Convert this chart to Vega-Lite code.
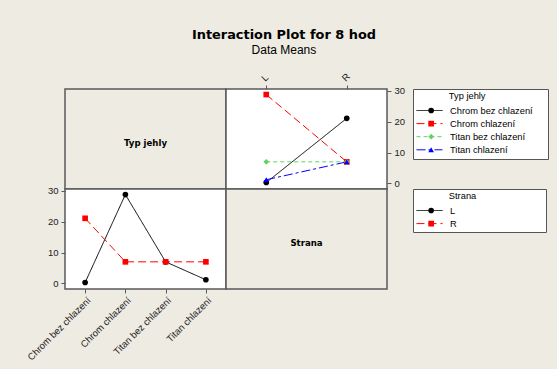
{
  "$schema": "https://vega.github.io/schema/vega-lite/v6.json",
  "background": "#EEEBE2",
  "autosize": {"type": "pad"},
  "padding": {"left": 24, "top": 29, "right": 9, "bottom": 20},
  "title": {
    "text": "Interaction Plot for 8 hod",
    "subtitle": "Data Means",
    "anchor": "middle",
    "dx": -3,
    "font": "DejaVu Sans",
    "fontSize": 12.9,
    "fontWeight": "bold",
    "color": "#000000",
    "subtitleFont": "Liberation Sans",
    "subtitleFontSize": 12,
    "subtitleColor": "#000000",
    "subtitlePadding": 3,
    "offset": 14
  },
  "datasets": {
    "means": [
      {"Typ": "Chrom bez chlazení", "Strana": "L", "mean": 0.3},
      {"Typ": "Chrom bez chlazení", "Strana": "R", "mean": 21.1},
      {"Typ": "Chrom chlazení", "Strana": "L", "mean": 28.8},
      {"Typ": "Chrom chlazení", "Strana": "R", "mean": 7.0},
      {"Typ": "Titan bez chlazení", "Strana": "L", "mean": 7.0},
      {"Typ": "Titan bez chlazení", "Strana": "R", "mean": 7.0},
      {"Typ": "Titan chlazení", "Strana": "L", "mean": 1.2},
      {"Typ": "Titan chlazení", "Strana": "R", "mean": 7.0}
    ]
  },
  "columns": 2,
  "spacing": 0,
  "bounds": "flush",
  "concat": [
    {
      "width": 161,
      "height": 100,
      "view": {"fill": "#EEEBE2", "stroke": "#5a5a5a", "strokeWidth": 1.5},
      "data": {"values": [{"label": "Typ jehly"}]},
      "mark": {"type": "text", "font": "DejaVu Sans", "fontWeight": "bold", "fontSize": 8.6, "color": "#000000", "dy": 4},
      "encoding": {"text": {"field": "label", "type": "nominal"}}
    },
    {
      "width": 161,
      "height": 100,
      "data": {"name": "means"},
      "encoding": {
        "x": {
          "field": "Strana", "type": "nominal",
          "scale": {"type": "point", "domain": ["L", "R"], "padding": 0.5},
          "axis": {"orient": "top", "labelAngle": -45, "title": null}
        },
        "y": {
          "field": "mean", "type": "quantitative",
          "scale": {"domain": [-1.8, 30.6], "nice": false, "zero": false},
          "axis": {"orient": "right", "values": [0, 10, 20, 30], "title": null, "labelPadding": 3}
        }
      },
      "layer": [
        {
          "mark": {"type": "line", "strokeWidth": 1},
          "encoding": {
            "color": {
              "field": "Typ", "type": "nominal",
              "scale": {"domain": ["Chrom bez chlazení", "Chrom chlazení", "Titan bez chlazení", "Titan chlazení"], "range": ["#000000", "#ff0000", "#5fd35f", "#0000ff"]},
              "legend": {"legendX": 187, "legendY": 0, "title": "\u2800\u00a0\u00a0\u00a0\u00a0\u00a0\u00a0\u00a0\u00a0\u00a0\u00a0Typ jehly\u00a0\u00a0\u00a0\u00a0\u00a0\u00a0\u00a0\u00a0\u00a0\u00a0\u00a0\u00a0\u00a0\u00a0\u00a0\u00a0\u00a0\u00a0\u00a0\u00a0\u2800", "symbolType": "stroke", "symbolSize": 676, "symbolStrokeWidth": 1, "clipHeight": 10, "rowPadding": 2.1, "titlePadding": 4.2, "padding": 3, "labelOffset": 7, "fillColor": "white", "strokeColor": "#555555"}
            },
            "strokeDash": {
              "field": "Typ", "type": "nominal",
              "scale": {"domain": ["Chrom bez chlazení", "Chrom chlazení", "Titan bez chlazení", "Titan chlazení"], "range": [[1, 0], [8, 4], [4, 3], [9, 3, 3, 3]]},
              "legend": {"legendX": 187, "legendY": 0, "title": "\u2800\u00a0\u00a0\u00a0\u00a0\u00a0\u00a0\u00a0\u00a0\u00a0\u00a0Typ jehly\u00a0\u00a0\u00a0\u00a0\u00a0\u00a0\u00a0\u00a0\u00a0\u00a0\u00a0\u00a0\u00a0\u00a0\u00a0\u00a0\u00a0\u00a0\u00a0\u00a0\u2800", "symbolType": "stroke", "symbolSize": 676, "symbolStrokeWidth": 1, "clipHeight": 10, "rowPadding": 2.1, "titlePadding": 4.2, "padding": 3, "labelOffset": 7, "fillColor": "white", "strokeColor": "#555555"}
            }
          }
        },
        {
          "mark": {"type": "point", "filled": true, "opacity": 1, "size": 32},
          "encoding": {
            "color": {
              "field": "Typ", "type": "nominal",
              "scale": {"domain": ["Chrom bez chlazení", "Chrom chlazení", "Titan bez chlazení", "Titan chlazení"], "range": ["#000000", "#ff0000", "#5fd35f", "#0000ff"]},
              "legend": {"legendX": 187, "legendY": 0, "title": "\u2800\u00a0\u00a0\u00a0\u00a0\u00a0\u00a0\u00a0\u00a0\u00a0\u00a0Typ jehly\u00a0\u00a0\u00a0\u00a0\u00a0\u00a0\u00a0\u00a0\u00a0\u00a0\u00a0\u00a0\u00a0\u00a0\u00a0\u00a0\u00a0\u00a0\u00a0\u00a0\u2800", "symbolSize": 32, "symbolStrokeWidth": 0, "symbolOffset": 10.5, "clipHeight": 10, "rowPadding": 2.1, "titlePadding": 4.2, "padding": 3, "labelOffset": 7, "fillColor": "transparent", "strokeColor": "transparent", "labelColor": "transparent", "titleColor": "transparent"}
            },
            "shape": {
              "field": "Typ", "type": "nominal",
              "scale": {"domain": ["Chrom bez chlazení", "Chrom chlazení", "Titan bez chlazení", "Titan chlazení"], "range": ["circle", "square", "diamond", "triangle-up"]},
              "legend": {"legendX": 187, "legendY": 0, "title": "\u2800\u00a0\u00a0\u00a0\u00a0\u00a0\u00a0\u00a0\u00a0\u00a0\u00a0Typ jehly\u00a0\u00a0\u00a0\u00a0\u00a0\u00a0\u00a0\u00a0\u00a0\u00a0\u00a0\u00a0\u00a0\u00a0\u00a0\u00a0\u00a0\u00a0\u00a0\u00a0\u2800", "symbolSize": 32, "symbolStrokeWidth": 0, "symbolOffset": 10.5, "clipHeight": 10, "rowPadding": 2.1, "titlePadding": 4.2, "padding": 3, "labelOffset": 7, "fillColor": "transparent", "strokeColor": "transparent", "labelColor": "transparent", "titleColor": "transparent"}
            }
          }
        }
      ],
      "resolve": {"legend": {"color": "independent", "shape": "independent", "strokeDash": "independent"}}
    },
    {
      "width": 161,
      "height": 100,
      "data": {"name": "means"},
      "encoding": {
        "x": {
          "field": "Typ", "type": "nominal",
          "scale": {"type": "point", "domain": ["Chrom bez chlazení", "Chrom chlazení", "Titan bez chlazení", "Titan chlazení"], "padding": 0.5},
          "axis": {"orient": "bottom", "labelAngle": -45, "title": null}
        },
        "y": {
          "field": "mean", "type": "quantitative",
          "scale": {"domain": [-1.8, 30.6], "nice": false, "zero": false},
          "axis": {"orient": "left", "values": [0, 10, 20, 30], "title": null, "labelPadding": 3}
        }
      },
      "layer": [
        {
          "mark": {"type": "line", "strokeWidth": 1},
          "encoding": {
            "color": {
              "field": "Strana", "type": "nominal",
              "scale": {"domain": ["L", "R"], "range": ["#000000", "#ff0000"]},
              "legend": {"legendX": 348, "legendY": 0, "title": "\u2800\u00a0\u00a0\u00a0\u00a0\u00a0\u00a0\u00a0\u00a0\u00a0\u00a0Strana\u00a0\u00a0\u00a0\u00a0\u00a0\u00a0\u00a0\u00a0\u00a0\u00a0\u00a0\u00a0\u00a0\u00a0\u00a0\u00a0\u00a0\u00a0\u00a0\u00a0\u00a0\u00a0\u00a0\u2800", "symbolType": "stroke", "symbolSize": 676, "symbolStrokeWidth": 1, "clipHeight": 10, "rowPadding": 2.1, "titlePadding": 4.2, "padding": 3, "labelOffset": 7, "fillColor": "white", "strokeColor": "#555555"}
            },
            "strokeDash": {
              "field": "Strana", "type": "nominal",
              "scale": {"domain": ["L", "R"], "range": [[1, 0], [8, 4]]},
              "legend": {"legendX": 348, "legendY": 0, "title": "\u2800\u00a0\u00a0\u00a0\u00a0\u00a0\u00a0\u00a0\u00a0\u00a0\u00a0Strana\u00a0\u00a0\u00a0\u00a0\u00a0\u00a0\u00a0\u00a0\u00a0\u00a0\u00a0\u00a0\u00a0\u00a0\u00a0\u00a0\u00a0\u00a0\u00a0\u00a0\u00a0\u00a0\u00a0\u2800", "symbolType": "stroke", "symbolSize": 676, "symbolStrokeWidth": 1, "clipHeight": 10, "rowPadding": 2.1, "titlePadding": 4.2, "padding": 3, "labelOffset": 7, "fillColor": "white", "strokeColor": "#555555"}
            }
          }
        },
        {
          "mark": {"type": "point", "filled": true, "opacity": 1, "size": 32},
          "encoding": {
            "color": {
              "field": "Strana", "type": "nominal",
              "scale": {"domain": ["L", "R"], "range": ["#000000", "#ff0000"]},
              "legend": {"legendX": 348, "legendY": 0, "title": "\u2800\u00a0\u00a0\u00a0\u00a0\u00a0\u00a0\u00a0\u00a0\u00a0\u00a0Strana\u00a0\u00a0\u00a0\u00a0\u00a0\u00a0\u00a0\u00a0\u00a0\u00a0\u00a0\u00a0\u00a0\u00a0\u00a0\u00a0\u00a0\u00a0\u00a0\u00a0\u00a0\u00a0\u00a0\u2800", "symbolSize": 32, "symbolStrokeWidth": 0, "symbolOffset": 10.5, "clipHeight": 10, "rowPadding": 2.1, "titlePadding": 4.2, "padding": 3, "labelOffset": 7, "fillColor": "transparent", "strokeColor": "transparent", "labelColor": "transparent", "titleColor": "transparent"}
            },
            "shape": {
              "field": "Strana", "type": "nominal",
              "scale": {"domain": ["L", "R"], "range": ["circle", "square"]},
              "legend": {"legendX": 348, "legendY": 0, "title": "\u2800\u00a0\u00a0\u00a0\u00a0\u00a0\u00a0\u00a0\u00a0\u00a0\u00a0Strana\u00a0\u00a0\u00a0\u00a0\u00a0\u00a0\u00a0\u00a0\u00a0\u00a0\u00a0\u00a0\u00a0\u00a0\u00a0\u00a0\u00a0\u00a0\u00a0\u00a0\u00a0\u00a0\u00a0\u2800", "symbolSize": 32, "symbolStrokeWidth": 0, "symbolOffset": 10.5, "clipHeight": 10, "rowPadding": 2.1, "titlePadding": 4.2, "padding": 3, "labelOffset": 7, "fillColor": "transparent", "strokeColor": "transparent", "labelColor": "transparent", "titleColor": "transparent"}
            }
          }
        }
      ],
      "resolve": {"legend": {"color": "independent", "shape": "independent", "strokeDash": "independent"}}
    },
    {
      "width": 161,
      "height": 100,
      "view": {"fill": "#EEEBE2", "stroke": "#5a5a5a", "strokeWidth": 1.5},
      "data": {"values": [{"label": "Strana"}]},
      "mark": {"type": "text", "font": "DejaVu Sans", "fontWeight": "bold", "fontSize": 8.6, "color": "#000000", "dy": 4},
      "encoding": {"text": {"field": "label", "type": "nominal"}}
    }
  ],
  "resolve": {
    "scale": {"x": "independent", "y": "independent", "color": "independent", "shape": "independent", "strokeDash": "independent"},
    "legend": {"color": "independent", "shape": "independent", "strokeDash": "independent"}
  },
  "config": {
    "font": "Liberation Sans",
    "view": {"fill": "white", "stroke": "#5a5a5a", "strokeWidth": 1.5},
    "axis": {
      "domain": false,
      "grid": false,
      "ticks": true,
      "tickColor": "#5a5a5a",
      "tickSize": 4,
      "labelFont": "Liberation Sans",
      "labelFontSize": 9.5,
      "labelColor": "#222222",
      "labelPadding": 2
    },
    "legend": {
      "orient": "none",
      "labelFont": "Liberation Sans",
      "labelFontSize": 9.3,
      "labelColor": "#000000",
      "titleFont": "Liberation Sans",
      "titleFontSize": 9.3,
      "titleFontWeight": "normal",
      "titleColor": "#000000"
    }
  }
}
